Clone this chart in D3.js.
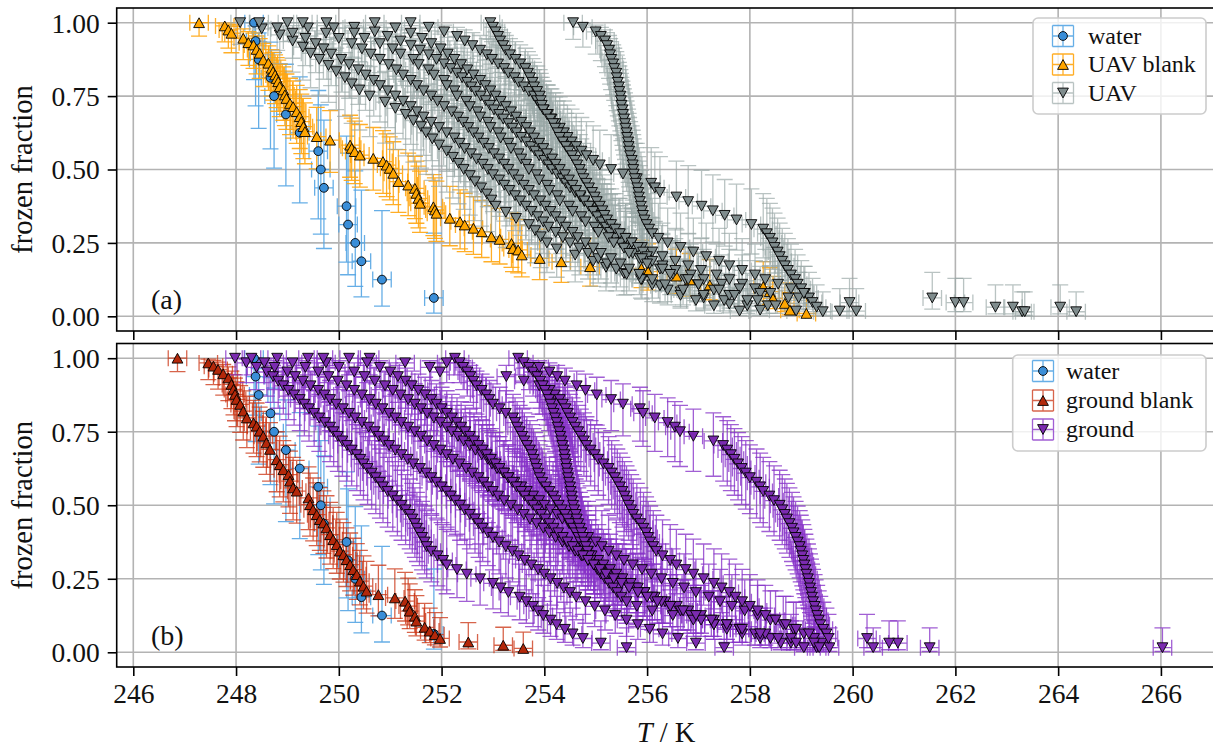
<!DOCTYPE html>
<html>
<head>
<meta charset="utf-8">
<script src="https://cdn.jsdelivr.net/npm/d3@7"></script>
<style>
  body { margin: 0; background: #fff; }
  svg text { font-family: "Liberation Serif", "DejaVu Serif", serif; fill: #111; }
</style>
</head>
<body>
<svg id="chart" width="1213" height="751"></svg>
<script>
// ---- axis ticks -------------------------------------------------------
const xTickValues = [246, 248, 250, 252, 254, 256, 258, 260, 262, 264, 266];
const yTickValues = [0, 0.25, 0.5, 0.75, 1.0];
const yTickLabels = ["0.00", "0.25", "0.50", "0.75", "1.00"];

// ---- reference water droplets (sorted freezing temperatures, K) -------
const waterT = [248.35, 248.38, 248.44, 248.67, 248.74, 248.97, 249.24, 249.60,
                249.65, 249.71, 250.15, 250.18, 250.32, 250.44, 250.84, 251.85];

// ---- UAV blank: temperature and frozen fraction ------------------------
const uavBlankN = 80;
const uavBlankT = [247.28,247.78,247.85,247.91,248.14,248.24,248.34,248.40,248.46,248.53,248.63,248.69,
  248.72,248.76,248.79,248.82,248.85,248.92,248.95,248.98,249.05,249.11,249.18,249.24,249.27,249.31,249.34,
  249.57,249.83,250.22,250.25,250.31,250.41,250.67,250.86,250.93,250.99,251.06,251.16,251.35,251.48,251.51,
  251.55,251.58,251.84,251.87,251.90,252.16,252.36,252.45,252.62,252.78,252.97,253.13,253.36,253.39,253.49,
  253.56,253.91,254.33,254.89,255.89,256.02,256.57,256.83,257.22,258.26,258.39,258.45,258.68,258.78,259.10];
const uavBlankF = [1.0,0.989,0.975,0.964,0.947,0.932,0.924,0.909,0.896,0.873,0.862,0.845,0.833,0.822,0.81,
  0.799,0.782,0.771,0.754,0.742,0.725,0.714,0.697,0.68,0.663,0.646,0.629,0.612,0.6,0.583,0.572,0.561,0.549,
  0.538,0.527,0.515,0.504,0.487,0.459,0.447,0.436,0.419,0.402,0.385,0.373,0.362,0.351,0.334,0.322,0.311,0.3,
  0.288,0.271,0.262,0.248,0.231,0.226,0.209,0.197,0.186,0.169,0.163,0.152,0.137,0.124,0.107,0.101,0.084,
  0.061,0.044,0.021,0.010];

// ---- UAV samples: one sorted list of freezing temperatures per run -----
const uavRun1 = [248.08,248.5,248.85,249.1,249.3,249.45,249.62,249.8,249.95,250.12,250.25,250.4,250.6,250.9,
  251.1,251.3,251.45,251.6,251.7,251.82,251.95,252.1,252.22,252.33,252.43,252.55,252.65,252.77,252.88,252.97,
  253.05,253.25,253.45,253.7,253.82,253.93,254.05,254.24,254.6,254.95,255.2,255.55,255.9,256.25,256.65,257.1,
  257.6,258.2];
const uavRun2 = [248.45,248.8,249.1,249.35,249.55,249.7,249.85,250.05,250.2,250.38,250.52,250.68,250.8,250.95,
  251.1,251.25,251.4,251.52,251.65,251.8,251.95,252.1,252.25,252.35,252.45,252.57,252.68,252.8,252.9,253.0,
  253.12,253.22,253.32,253.43,253.53,253.64,253.75,253.87,253.98,254.08,254.22,254.36,254.5,254.68,254.85,
  255.05,255.22,255.4,255.6,255.88,256.1,256.4,256.65,256.95,257.3,257.8];
const uavRun3 = [249.0,249.4,249.75,250.0,250.25,250.45,250.62,250.8,250.97,251.12,251.25,251.4,251.52,251.65,
  251.8,251.92,252.05,252.2,252.32,252.42,252.52,252.62,252.72,252.82,252.92,253.02,253.12,253.22,253.3,253.4,
  253.5,253.6,253.7,253.8,253.92,254.02,254.12,254.22,254.32,254.42,254.55,254.65,254.8,254.95,255.1,255.3,
  255.48,255.65,255.85,256.1,256.35,256.7,257.1,257.5,257.95,259.75];
const uavRun4 = [249.76,250.3,250.7,250.95,251.2,251.4,251.58,251.75,251.9,252.05,252.18,252.3,252.4,252.5,
  252.58,252.66,252.76,252.86,252.94,253.02,253.12,253.2,253.3,253.38,253.46,253.55,253.65,253.74,253.82,253.9,
  254.0,254.08,254.15,254.25,254.35,254.42,254.5,254.6,254.7,254.78,254.88,254.96,255.05,255.15,255.24,255.33,
  255.45,255.58,255.7,255.9,256.1,256.3,256.55,256.8,257.05,257.35,257.6,257.85,258.1,258.4,258.75,259.94,
  263.12,263.3];
const uavRun5 = [250.7,251.1,251.4,251.62,251.8,251.98,252.12,252.25,252.38,252.5,252.62,252.75,252.85,252.95,
  253.05,253.15,253.25,253.35,253.45,253.55,253.65,253.72,253.8,253.9,253.98,254.05,254.15,254.22,254.3,254.4,
  254.48,254.55,254.62,254.7,254.78,254.87,254.95,255.03,255.12,255.2,255.28,255.38,255.48,255.6,255.72,255.85,
  256.05,256.25,256.5,256.75,257.0,257.3,257.6,257.95,258.35,260.07];
const uavRun6 = [251.4,251.75,252.05,252.3,252.45,252.6,252.75,252.88,252.98,253.1,253.22,253.3,253.42,253.5,
  253.6,253.7,253.8,253.86,253.92,253.99,254.07,254.14,254.22,254.3,254.38,254.45,254.53,254.62,254.72,254.82,
  254.95,255.08,255.3,255.53,255.8,256.08,256.15,256.25,256.57,256.8,257.06,257.28,257.51,257.74,258.03,258.26,
  258.33,258.39,258.44,258.48,258.54,258.58,258.63,258.68,258.74,258.8,258.88,258.93,259.0,259.07,259.15,
  259.22,259.3,259.42];
const uavRun7 = [252.95,253.0,253.05,253.1,253.14,253.2,253.25,253.33,253.44,253.53,253.63,253.68,253.72,253.77,
  253.8,253.86,253.91,253.93,253.95,253.98,254.05,254.12,254.17,254.21,254.26,254.3,254.36,254.42,254.48,
  254.54,254.59,254.64,254.69,254.72,254.76,254.82,254.87,254.93,254.98,255.02,255.08,255.13,255.17,255.22,
  255.3,255.38,255.47,255.58,255.7,255.82,255.92,256.0,256.1,256.3,256.55,256.85,257.1,257.45,257.8,258.2,
  258.95,262.0,262.78,263.35];
const uavRun8 = [254.56,254.75,255.0,255.1,255.18,255.22,255.26,255.28,255.3,255.34,255.36,255.4,255.41,255.43,
  255.45,255.46,255.48,255.49,255.5,255.52,255.53,255.55,255.57,255.58,255.6,255.61,255.63,255.64,255.65,
  255.67,255.7,255.72,255.73,255.74,255.76,255.78,255.81,255.83,255.84,255.86,255.88,255.9,255.92,255.95,
  255.99,256.04,256.1,256.22,256.4,256.65,256.9,257.15,257.4,257.6,257.85,258.1,258.3,258.55,258.8,259.05,
  261.55,262.16,264.04,264.35];
const uavRun9 = [249.3,249.9,250.3,250.5,250.8,251.05,251.2,251.45,251.55,251.75,251.85,252.05,252.1,252.25,
  252.3,252.48,252.55,252.7,252.75,252.9,252.95,253.1,253.15,253.3,253.35,253.5,253.55,253.65,253.7,253.85,
  253.9,254.05,254.1,254.25,254.3,254.48,254.55,254.72,254.8,254.98,255.05,255.25,255.35,255.55,255.65,
  255.9,256.0,256.3,256.45,256.8,257.0,257.4,257.7,258.15,258.5,258.9];

// ---- ground blank: temperature and frozen fraction ---------------------
const groundBlankN = 80;
const groundBlankT = [246.86,247.46,247.56,247.65,247.75,247.85,247.91,247.95,247.98,248.01,248.08,248.14,
  248.21,248.34,248.40,248.46,248.53,248.59,248.66,248.79,248.85,248.92,249.02,249.05,249.11,249.18,249.41,
  249.44,249.50,249.57,249.63,249.70,249.76,249.83,249.89,249.96,250.02,250.09,250.15,250.22,250.28,250.35,
  250.41,250.48,250.54,250.77,251.09,251.29,251.35,251.38,251.48,251.51,251.67,251.77,251.87,251.97,252.52,
  253.20,253.59];
const groundBlankF = [1.0,0.984,0.973,0.962,0.947,0.933,0.911,0.894,0.877,0.860,0.843,0.820,0.797,0.780,
  0.769,0.752,0.735,0.712,0.690,0.655,0.638,0.621,0.604,0.582,0.559,0.548,0.525,0.502,0.485,0.468,0.451,0.440,
  0.423,0.400,0.383,0.366,0.344,0.332,0.315,0.298,0.281,0.264,0.242,0.225,0.208,0.196,0.185,0.174,0.157,0.140,
  0.123,0.106,0.085,0.072,0.060,0.047,0.035,0.024,0.013];

// ---- ground samples: one sorted list of freezing temperatures per run --
const groundRun1 = [247.98,248.2,248.4,248.6,248.72,248.82,248.92,249.02,249.13,249.24,249.33,249.42,249.52,
  249.62,249.73,249.83,249.9,249.98,250.07,250.16,250.25,250.35,250.42,250.48,250.56,250.64,250.72,250.8,
  250.86,250.95,251.05,251.14,251.22,251.3,251.38,251.43,251.48,251.52,251.57,251.62,251.67,251.71,251.8,
  251.92,252.03,252.1,252.3,252.49,252.75,253.0,253.15,253.3,253.52,253.65,253.78,253.88,253.98,254.12,254.24,
  254.4,254.55,254.75,255.1,255.6];
const groundRun2 = [248.3,248.55,248.75,249.0,249.15,249.3,249.45,249.6,249.72,249.83,249.95,250.08,250.2,
  250.32,250.45,250.58,250.7,250.78,250.88,250.98,251.1,251.22,251.34,251.45,251.58,251.7,251.8,251.9,252.0,
  252.1,252.18,252.27,252.36,252.45,252.55,252.65,252.72,252.8,252.9,253.0,253.12,253.25,253.38,253.5,253.62,
  253.75,253.88,254.0,254.12,254.25,254.38,254.5,254.62,254.8,254.98,255.18,255.38,255.6,255.82,256.05,256.3,
  256.6,256.95,257.5];
const groundRun3 = [248.8,249.1,249.35,249.6,249.8,249.98,250.15,250.3,250.45,250.6,250.72,250.85,250.98,
  251.1,251.22,251.35,251.48,251.6,251.72,251.85,251.98,252.1,252.22,252.35,252.48,252.6,252.72,252.82,252.9,
  253.0,253.1,253.22,253.35,253.48,253.6,253.72,253.85,253.98,254.1,254.22,254.35,254.48,254.6,254.72,254.85,
  254.98,255.12,255.28,255.45,255.6,255.78,255.95,256.15,256.35,256.58,256.8,257.05,257.3,257.55,257.8,258.1,
  258.4,258.8,259.3];
const groundRun4 = [249.4,249.75,250.0,250.3,250.5,250.7,250.9,251.05,251.2,251.35,251.48,251.6,251.72,251.85,
  251.98,252.1,252.2,252.32,252.43,252.55,252.66,252.78,252.9,252.98,253.08,253.2,253.3,253.42,253.55,253.66,
  253.78,253.9,254.0,254.12,254.25,254.35,254.48,254.6,254.72,254.85,255.0,255.12,255.25,255.4,255.55,255.72,
  255.9,256.08,256.28,256.5,256.72,256.95,257.2,257.42,257.65,257.9,258.15,258.4,258.65,258.85,259.05,259.25,
  259.4,259.55];
const groundRun5 = [250.6,251.29,251.77,251.97,253.26,253.6,253.9,254.1,254.2,254.3,254.36,254.41,254.45,254.5,
  254.55,254.6,254.66,254.71,254.77,254.82,254.9,254.98,255.05,255.15,255.25,255.31,255.37,255.42,255.47,
  255.52,255.56,255.6,255.64,255.69,255.73,255.8,255.87,255.93,255.98,256.02,256.06,256.12,256.18,256.3,
  256.45,256.57,256.75,256.9,257.1,257.3,257.45,257.6,257.72,257.85,258.0,258.15,258.3,258.5,258.7,258.9,
  259.15,260.28,260.88,261.5];
const groundRun6 = [252.26,252.35,252.42,252.5,252.56,252.62,252.68,252.78,252.87,252.93,253.0,253.13,253.25,
  253.39,253.43,253.47,253.52,253.57,253.61,253.66,253.72,253.76,253.79,253.82,253.85,253.88,253.91,253.96,
  254.03,254.1,254.17,254.22,254.28,254.34,254.4,254.45,254.5,254.56,254.61,254.66,254.7,254.77,254.85,254.92,
  255.05,255.15,255.28,255.4,255.52,255.68,255.82,255.95,256.1,256.28,256.45,256.65,256.85,257.05,257.3,
  257.55,257.85,258.2,258.6,259.05];
const groundRun7 = [253.49,253.6,253.7,253.78,253.86,253.92,253.97,254.01,254.05,254.09,254.12,254.15,254.18,
  254.21,254.24,254.26,254.29,254.31,254.33,254.35,254.37,254.39,254.4,254.42,254.43,254.45,254.46,254.48,
  254.5,254.51,254.53,254.54,254.56,254.58,254.61,254.63,254.66,254.69,254.72,254.75,254.78,254.81,254.84,
  254.87,254.9,254.96,255.03,255.1,255.18,255.26,255.34,255.42,255.5,255.6,255.8,256.1,256.5,256.9,257.3,
  257.8,258.3,258.8,259.25,260.4];
const groundRun8 = [249.7,252.1,253.9,254.1,254.25,254.4,254.63,254.8,255.02,255.3,255.53,255.86,255.92,256.15,
  256.4,256.54,256.64,256.9,257.29,257.48,257.56,257.63,257.7,257.77,257.84,257.92,258.0,258.13,258.2,258.26,
  258.38,258.47,258.58,258.63,258.68,258.72,258.77,258.82,258.85,258.89,258.93,258.97,258.99,259.02,259.04,
  259.06,259.08,259.1,259.13,259.15,259.17,259.19,259.21,259.23,259.26,259.28,259.31,259.34,259.37,259.43,
  259.49,259.53,260.71,266.03];
const groundRun9 = [250.2,250.55,250.8,251.0,251.15,251.3,251.42,251.55,251.68,251.8,251.9,252.0,252.1,252.2,
  252.3,252.38,252.46,252.55,252.63,252.72,252.8,252.88,252.96,253.05,253.13,253.22,253.3,253.38,253.46,
  253.55,253.62,253.7,253.78,253.86,253.94,254.02,254.1,254.18,254.27,254.36,254.45,254.55,254.65,254.75,
  254.85,254.96,255.08,255.2,255.35,255.5,255.65,255.82,256.0,256.2,256.45,256.7,256.95,257.25,257.55,257.85,
  258.2,258.55,258.9,259.35];

const uavRuns = [uavRun1, uavRun2, uavRun3, uavRun4, uavRun5, uavRun6, uavRun7, uavRun8, uavRun9];
const groundRuns = [groundRun1, groundRun2, groundRun3, groundRun4, groundRun5, groundRun6, groundRun7,
                    groundRun8, groundRun9];

// temperature uncertainty of the cold stage (K)
const tempErr = 0.18;

// ---- helpers -----------------------------------------------------------
// frozen fraction of a sorted run: the warmest droplet is 1/n, the coldest 1
function runPoints(temps) {
  const n = temps.length;
  return temps.map((t, i) => ({ T: t, f: (n - i) / n, n }));
}
function pairedPoints(temps, fracs, n) {
  return temps.map((t, i) => ({ T: t, f: fracs[i], n }));
}
// 95 % Wilson score interval of a binomial fraction
function wilson(p, n) {
  const z = 1.96, z2 = z * z;
  const den = 1 + z2 / n;
  const c = (p + z2 / (2 * n)) / den;
  const h = z * Math.sqrt(p * (1 - p) / n + z2 / (4 * n * n)) / den;
  return [Math.max(0, c - h), Math.min(1, c + h)];
}

const styles = {
  water:       { shape: "circle", fill: "#3a8ed8", bar: "#55a5e3", barOpacity: 0.9 },
  uavBlank:    { shape: "up",     fill: "#ffa500", bar: "#ffa510", barOpacity: 0.9 },
  uav:         { shape: "down",   fill: "#7f8c8d", bar: "#98a6a5", barOpacity: 0.68 },
  groundBlank: { shape: "up",     fill: "#b3280a", bar: "#c9300f", barOpacity: 0.75 },
  ground:      { shape: "down",   fill: "#7b2bb0", bar: "#8632c8", barOpacity: 0.78 }
};

function markerPath(shape) {
  if (shape === "circle") return d3.symbol().type(d3.symbolCircle).size(Math.PI * 4.4 * 4.4)();
  const w = 5.4, h = 4.9;
  return shape === "up"
    ? `M0,${-h}L${w},${h}L${-w},${h}Z`
    : `M0,${h}L${w},${-h}L${-w},${-h}Z`;
}

// ---- layout ------------------------------------------------------------
const svg = d3.select("#chart");
const plotLeft = 116.7, plotRight = 1220;
const x = d3.scaleLinear().domain([245.677, 267.15]).range([plotLeft, plotRight]);

const panels = [
  {
    id: "a", top: 8, bottom: 331, tag: "(a)",
    series: [
      { key: "water", label: "water", groups: [runPoints(waterT)] },
      { key: "uavBlank", label: "UAV blank", groups: [pairedPoints(uavBlankT, uavBlankF, uavBlankN)] },
      { key: "uav", label: "UAV", groups: uavRuns.map(runPoints) }
    ],
    legend: { x0: 1033, y0: 18, x1: 1206, y1: 114, mx: 1063, tx: 1088, rows: [36, 64.5, 93] }
  },
  {
    id: "b", top: 343.5, bottom: 667, tag: "(b)",
    series: [
      { key: "water", label: "water", groups: [runPoints(waterT)] },
      { key: "groundBlank", label: "ground blank", groups: [pairedPoints(groundBlankT, groundBlankF, groundBlankN)] },
      { key: "ground", label: "ground", groups: groundRuns.map(runPoints) }
    ],
    legend: { x0: 1012.7, y0: 355, x1: 1206, y1: 451, mx: 1043, tx: 1066, rows: [371, 400.5, 429.5] }
  }
];

const cap = 8;
const gridColor = "#b3b3b3";
const tickFont = 27.5;

panels.forEach((p, pi) => {
  const y = d3.scaleLinear().domain([-0.05, 1.05]).range([p.bottom, p.top]);
  const g = svg.append("g");

  const clipId = "clip-" + p.id;
  svg.append("clipPath").attr("id", clipId)
    .append("rect").attr("x", plotLeft).attr("y", p.top)
    .attr("width", plotRight - plotLeft).attr("height", p.bottom - p.top);

  // grid
  const grid = g.append("g").attr("clip-path", `url(#${clipId})`);
  grid.selectAll("line.gx").data(xTickValues).join("line")
    .attr("x1", d => x(d)).attr("x2", d => x(d))
    .attr("y1", p.top).attr("y2", p.bottom)
    .attr("stroke", gridColor).attr("stroke-width", 1.6);
  grid.selectAll("line.gy").data(yTickValues).join("line")
    .attr("x1", plotLeft).attr("x2", plotRight)
    .attr("y1", d => y(d)).attr("y2", d => y(d))
    .attr("stroke", gridColor).attr("stroke-width", 1.6);

  const data = g.append("g").attr("clip-path", `url(#${clipId})`);

  // error bars for every series first, markers on top
  const barLayer = data.append("g");
  const markLayer = data.append("g");
  p.series.forEach(s => {
    const st = styles[s.key];
    s.groups.forEach(pts => {
      barLayer.append("g").selectAll("path").data(pts).join("path")
        .attr("d", d => {
          const xc = x(d.T), xl = x(d.T - tempErr), xr = x(d.T + tempErr);
          const [lo, hi] = wilson(d.f, d.n);
          const yc = y(d.f), yl = y(lo), yh = y(hi);
          return `M${xl},${yc}H${xr}` +
                 `M${xl},${yc - cap}V${yc + cap}M${xr},${yc - cap}V${yc + cap}` +
                 `M${xc},${yl}V${yh}` +
                 `M${xc - cap},${yl}H${xc + cap}M${xc - cap},${yh}H${xc + cap}`;
        })
        .attr("fill", "none")
        .attr("stroke", st.bar)
        .attr("stroke-opacity", st.barOpacity)
        .attr("stroke-width", 1.3);
    });
  });
  p.series.forEach(s => {
    const st = styles[s.key];
    const mp = markerPath(st.shape);
    s.groups.forEach(pts => {
      markLayer.append("g").selectAll("path").data(pts).join("path")
        .attr("d", mp)
        .attr("transform", d => `translate(${x(d.T)},${y(d.f)})`)
        .attr("fill", st.fill)
        .attr("stroke", "#000")
        .attr("stroke-width", 0.9);
    });
  });

  // frame
  g.append("rect").attr("x", plotLeft).attr("y", p.top)
    .attr("width", plotRight - plotLeft).attr("height", p.bottom - p.top)
    .attr("fill", "none").attr("stroke", "#000").attr("stroke-width", 1.6);

  // y axis
  const yAxis = d3.axisLeft(y).tickValues(yTickValues)
    .tickFormat((d, i) => yTickLabels[i]).tickSize(9).tickPadding(8);
  const ya = g.append("g").attr("transform", `translate(${plotLeft},0)`).call(yAxis);
  ya.select(".domain").remove();
  ya.selectAll(".tick line").attr("stroke", "#000").attr("stroke-width", 1.6);
  ya.selectAll(".tick text").attr("font-size", tickFont).attr("font-family", "Liberation Serif")
    .attr("fill", "#111").attr("dy", "0.34em");

  // x axis (labels only under the lower panel)
  const xAxis = d3.axisBottom(x).tickValues(xTickValues).tickSize(9).tickPadding(7)
    .tickFormat(pi === panels.length - 1 ? d3.format("d") : () => "");
  const xa = g.append("g").attr("transform", `translate(0,${p.bottom})`).call(xAxis);
  xa.select(".domain").remove();
  xa.selectAll(".tick line").attr("stroke", "#000").attr("stroke-width", 1.6);
  xa.selectAll(".tick text").attr("font-size", tickFont).attr("font-family", "Liberation Serif")
    .attr("fill", "#111").attr("dy", "0.74em");

  // y label
  g.append("text")
    .attr("transform", `translate(32,${(p.top + p.bottom) / 2}) rotate(-90)`)
    .attr("text-anchor", "middle").attr("font-size", 28.5)
    .text("frozen fraction");

  // panel tag
  g.append("text").attr("x", 151).attr("y", p.bottom - 22)
    .attr("font-size", 28).text(p.tag);

  // legend
  const L = p.legend;
  const lg = g.append("g");
  lg.append("rect").attr("x", L.x0).attr("y", L.y0)
    .attr("width", L.x1 - L.x0).attr("height", L.y1 - L.y0)
    .attr("rx", 5).attr("fill", "#fff").attr("fill-opacity", 0.8)
    .attr("stroke", "#cccccc").attr("stroke-width", 1.6);
  p.series.forEach((s, i) => {
    const st = styles[s.key];
    const cy = L.rows[i], cx = L.mx, hw = 10.5;
    lg.append("path")
      .attr("d", `M${cx - hw},${cy}H${cx + hw}M${cx - hw},${cy - hw}V${cy + hw}M${cx + hw},${cy - hw}V${cy + hw}` +
                 `M${cx},${cy - hw}V${cy + hw}M${cx - hw},${cy - hw}H${cx + hw}M${cx - hw},${cy + hw}H${cx + hw}`)
      .attr("fill", "none").attr("stroke", st.bar).attr("stroke-opacity", st.barOpacity)
      .attr("stroke-width", 1.3);
    lg.append("path").attr("d", markerPath(st.shape))
      .attr("transform", `translate(${cx},${cy})`)
      .attr("fill", st.fill).attr("stroke", "#000").attr("stroke-width", 0.9);
    lg.append("text").attr("x", L.tx).attr("y", cy + 7.5)
      .attr("font-size", 24).text(s.label);
  });
});

// x label
const xl = svg.append("text").attr("x", 666).attr("y", 742)
  .attr("text-anchor", "middle").attr("font-size", 28.5);
xl.append("tspan").attr("font-style", "italic").text("T");
xl.append("tspan").text(" / K");
</script>
</body>
</html>
